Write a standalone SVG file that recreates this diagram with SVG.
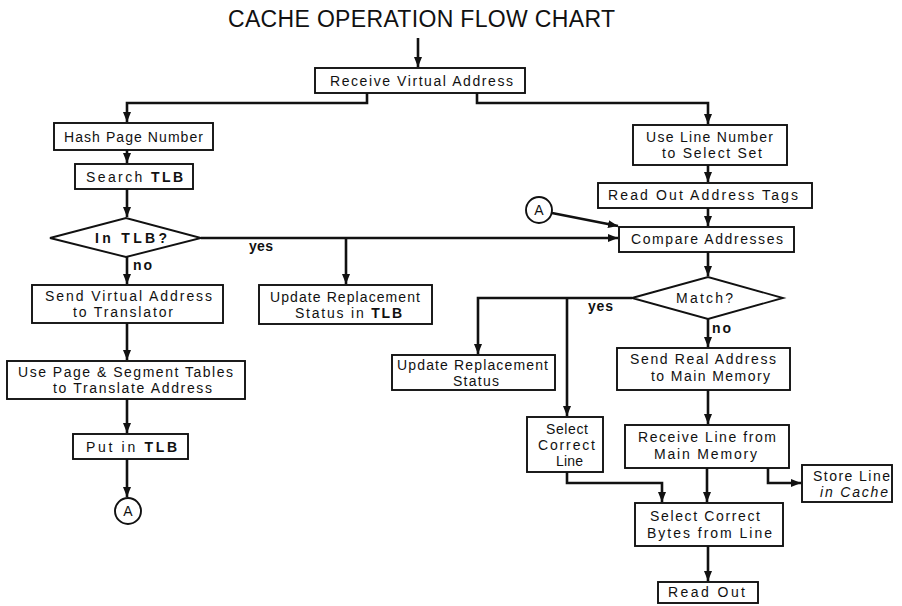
<svg xmlns="http://www.w3.org/2000/svg" width="902" height="606" viewBox="0 0 902 606">
<style>
  .bg { fill: #ffffff; }
  .box { fill: #ffffff; stroke: #111; stroke-width: 1.9; }
  .dia { fill: #ffffff; stroke: #111; stroke-width: 1.9; }
  .conn { fill: none; stroke: #111; stroke-width: 2.6; stroke-linejoin: miter; }
  .t { font-family: "Liberation Sans", Arial, sans-serif; font-size: 14px; fill: #111; text-anchor: middle; }
  .b { font-weight: bold; }
  .title { font-family: "Liberation Sans", Arial, sans-serif; font-size: 23px; fill: #111; text-anchor: middle; }
  .lbl { font-family: "Liberation Sans", Arial, sans-serif; font-size: 14px; font-weight: bold; fill: #111; text-anchor: middle; }
</style>
<defs>
  <marker id="ah" markerUnits="userSpaceOnUse" markerWidth="10" markerHeight="10" viewBox="0 0 10 10" refX="10" refY="5" orient="auto">
    <path d="M0,1 L10,5 L0,9 Z" fill="#111"/>
  </marker>
</defs>
<rect class="bg" x="0" y="0" width="902" height="606"/>
<text class="title" x="421.5" y="27" textLength="387" lengthAdjust="spacing">CACHE OPERATION FLOW CHART</text>

<g id="connectors">
  <path class="conn" d="M418,38 V67" marker-end="url(#ah)"/>
  <path class="conn" d="M367,93 V103 H127 V122" marker-end="url(#ah)"/>
  <path class="conn" d="M477,93 V103 H708 V124" marker-end="url(#ah)"/>
  <path class="conn" d="M127,150 V163" marker-end="url(#ah)"/>
  <path class="conn" d="M127,189 V217" marker-end="url(#ah)"/>
  <path class="conn" d="M201,238 H618" marker-end="url(#ah)"/>
  <path class="conn" d="M346,238 V284" marker-end="url(#ah)"/>
  <path class="conn" d="M127,257 V284" marker-end="url(#ah)"/>
  <path class="conn" d="M127,323 V360" marker-end="url(#ah)"/>
  <path class="conn" d="M127,399 V433" marker-end="url(#ah)"/>
  <path class="conn" d="M127,459 V497" marker-end="url(#ah)"/>
  <path class="conn" d="M708,165 V182" marker-end="url(#ah)"/>
  <path class="conn" d="M708,208 V226" marker-end="url(#ah)"/>
  <path class="conn" d="M552,213 L618,226" marker-end="url(#ah)"/>
  <path class="conn" d="M708,252 V276" marker-end="url(#ah)"/>
  <path class="conn" d="M632,298 H478 V354" marker-end="url(#ah)"/>
  <path class="conn" d="M567,298 V416" marker-end="url(#ah)"/>
  <path class="conn" d="M708,319 V347" marker-end="url(#ah)"/>
  <path class="conn" d="M708,390 V424" marker-end="url(#ah)"/>
  <path class="conn" d="M567,472 V483 H662 V502" marker-end="url(#ah)"/>
  <path class="conn" d="M707,468 V502" marker-end="url(#ah)"/>
  <path class="conn" d="M768,468 V483 H801" marker-end="url(#ah)"/>
  <path class="conn" d="M708,546 V581" marker-end="url(#ah)"/>
  <text class="lbl" x="261" y="251" textLength="24" lengthAdjust="spacing">yes</text>
  <text class="lbl" x="142.5" y="270" textLength="19" lengthAdjust="spacing">no</text>
  <text class="lbl" x="600.5" y="311" textLength="25" lengthAdjust="spacing">yes</text>
  <text class="lbl" x="721.5" y="333" textLength="19" lengthAdjust="spacing">no</text>
</g>

<g id="receive-va">
  <rect class="box" x="315" y="68" width="210" height="25"/>
  <text class="t" x="421.5" y="86" textLength="183" lengthAdjust="spacing">Receive Virtual Address</text>
</g>
<g id="hash-page">
  <rect class="box" x="54" y="123" width="159" height="27"/>
  <text class="t" x="133.5" y="142" textLength="139" lengthAdjust="spacing">Hash Page Number</text>
</g>
<g id="search-tlb">
  <rect class="box" x="75" y="164" width="118" height="25"/>
  <text class="t" x="134.5" y="182" textLength="97" lengthAdjust="spacing">Search <tspan class="b">TLB</tspan></text>
</g>
<g id="in-tlb">
  <polygon class="dia" points="50,238 126,218 201,238 126,257"/>
  <text class="t b" x="131" y="243" textLength="72" lengthAdjust="spacing">In TLB?</text>
</g>
<g id="send-va">
  <rect class="box" x="32" y="285" width="191" height="38"/>
  <text class="t" x="128.5" y="301" textLength="167" lengthAdjust="spacing">Send Virtual Address</text>
  <text class="t" x="123" y="317" textLength="100" lengthAdjust="spacing">to Translator</text>
</g>
<g id="page-seg">
  <rect class="box" x="7" y="361" width="238" height="38"/>
  <text class="t" x="125.5" y="377" textLength="215" lengthAdjust="spacing">Use Page &amp; Segment Tables</text>
  <text class="t" x="132.5" y="393" textLength="159" lengthAdjust="spacing">to Translate Address</text>
</g>
<g id="put-tlb">
  <rect class="box" x="73" y="434" width="115" height="25"/>
  <text class="t" x="131.5" y="452" textLength="91" lengthAdjust="spacing">Put in <tspan class="b">TLB</tspan></text>
</g>
<g id="conn-a-bottom">
  <circle class="box" cx="128" cy="511" r="13"/>
  <text class="t" x="128" y="516">A</text>
</g>
<g id="update-tlb">
  <rect class="box" x="259" y="285" width="173" height="39"/>
  <text class="t" x="345" y="302" textLength="150" lengthAdjust="spacing">Update Replacement</text>
  <text class="t" x="348.5" y="318" textLength="107" lengthAdjust="spacing">Status in <tspan class="b">TLB</tspan></text>
</g>
<g id="line-number">
  <rect class="box" x="633" y="125" width="154" height="40"/>
  <text class="t" x="709.5" y="142" textLength="127" lengthAdjust="spacing">Use Line Number</text>
  <text class="t" x="712" y="158" textLength="100" lengthAdjust="spacing">to Select Set</text>
</g>
<g id="read-tags">
  <rect class="box" x="598" y="183" width="214" height="25"/>
  <text class="t" x="703" y="200" textLength="190" lengthAdjust="spacing">Read Out Address Tags</text>
</g>
<g id="compare">
  <rect class="box" x="619" y="227" width="175" height="25"/>
  <text class="t" x="707" y="244" textLength="152" lengthAdjust="spacing">Compare Addresses</text>
</g>
<g id="conn-a-top">
  <circle class="box" cx="539" cy="210" r="13"/>
  <text class="t" x="539" y="215">A</text>
</g>
<g id="match">
  <polygon class="dia" points="632,298 708,277 783,298 708,319"/>
  <text class="t" x="704.5" y="303" textLength="57" lengthAdjust="spacing">Match?</text>
</g>
<g id="update-status">
  <rect class="box" x="392" y="355" width="163" height="35"/>
  <text class="t" x="472.5" y="370" textLength="151" lengthAdjust="spacing">Update Replacement</text>
  <text class="t" x="476" y="386" textLength="46" lengthAdjust="spacing">Status</text>
</g>
<g id="select-line">
  <rect class="box" x="527" y="417" width="76" height="55"/>
  <text class="t" x="567" y="434" textLength="42" lengthAdjust="spacing">Select</text>
  <text class="t" x="566.5" y="450" textLength="57" lengthAdjust="spacing">Correct</text>
  <text class="t" x="569.5" y="466" textLength="27" lengthAdjust="spacing">Line</text>
</g>
<g id="send-real">
  <rect class="box" x="617" y="348" width="173" height="42"/>
  <text class="t" x="703" y="364" textLength="146" lengthAdjust="spacing">Send Real Address</text>
  <text class="t" x="710.5" y="381" textLength="119" lengthAdjust="spacing">to Main Memory</text>
</g>
<g id="receive-line">
  <rect class="box" x="625" y="425" width="164" height="43"/>
  <text class="t" x="707" y="442" textLength="138" lengthAdjust="spacing">Receive Line from</text>
  <text class="t" x="705.5" y="459" textLength="103" lengthAdjust="spacing">Main Memory</text>
</g>
<g id="store-line">
  <rect class="box" x="802" y="465" width="90" height="37"/>
  <text class="t" x="851.5" y="481" textLength="77" lengthAdjust="spacing">Store Line</text>
  <text class="t" x="854" y="497" textLength="68" lengthAdjust="spacing" font-style="italic">in Cache</text>
</g>
<g id="select-bytes">
  <rect class="box" x="635" y="503" width="148" height="43"/>
  <text class="t" x="705" y="521" textLength="110" lengthAdjust="spacing">Select Correct</text>
  <text class="t" x="709.5" y="538" textLength="125" lengthAdjust="spacing">Bytes from Line</text>
</g>
<g id="read-out">
  <rect class="box" x="658" y="582" width="100" height="21"/>
  <text class="t" x="706.5" y="597" textLength="77" lengthAdjust="spacing">Read Out</text>
</g>
</svg>
